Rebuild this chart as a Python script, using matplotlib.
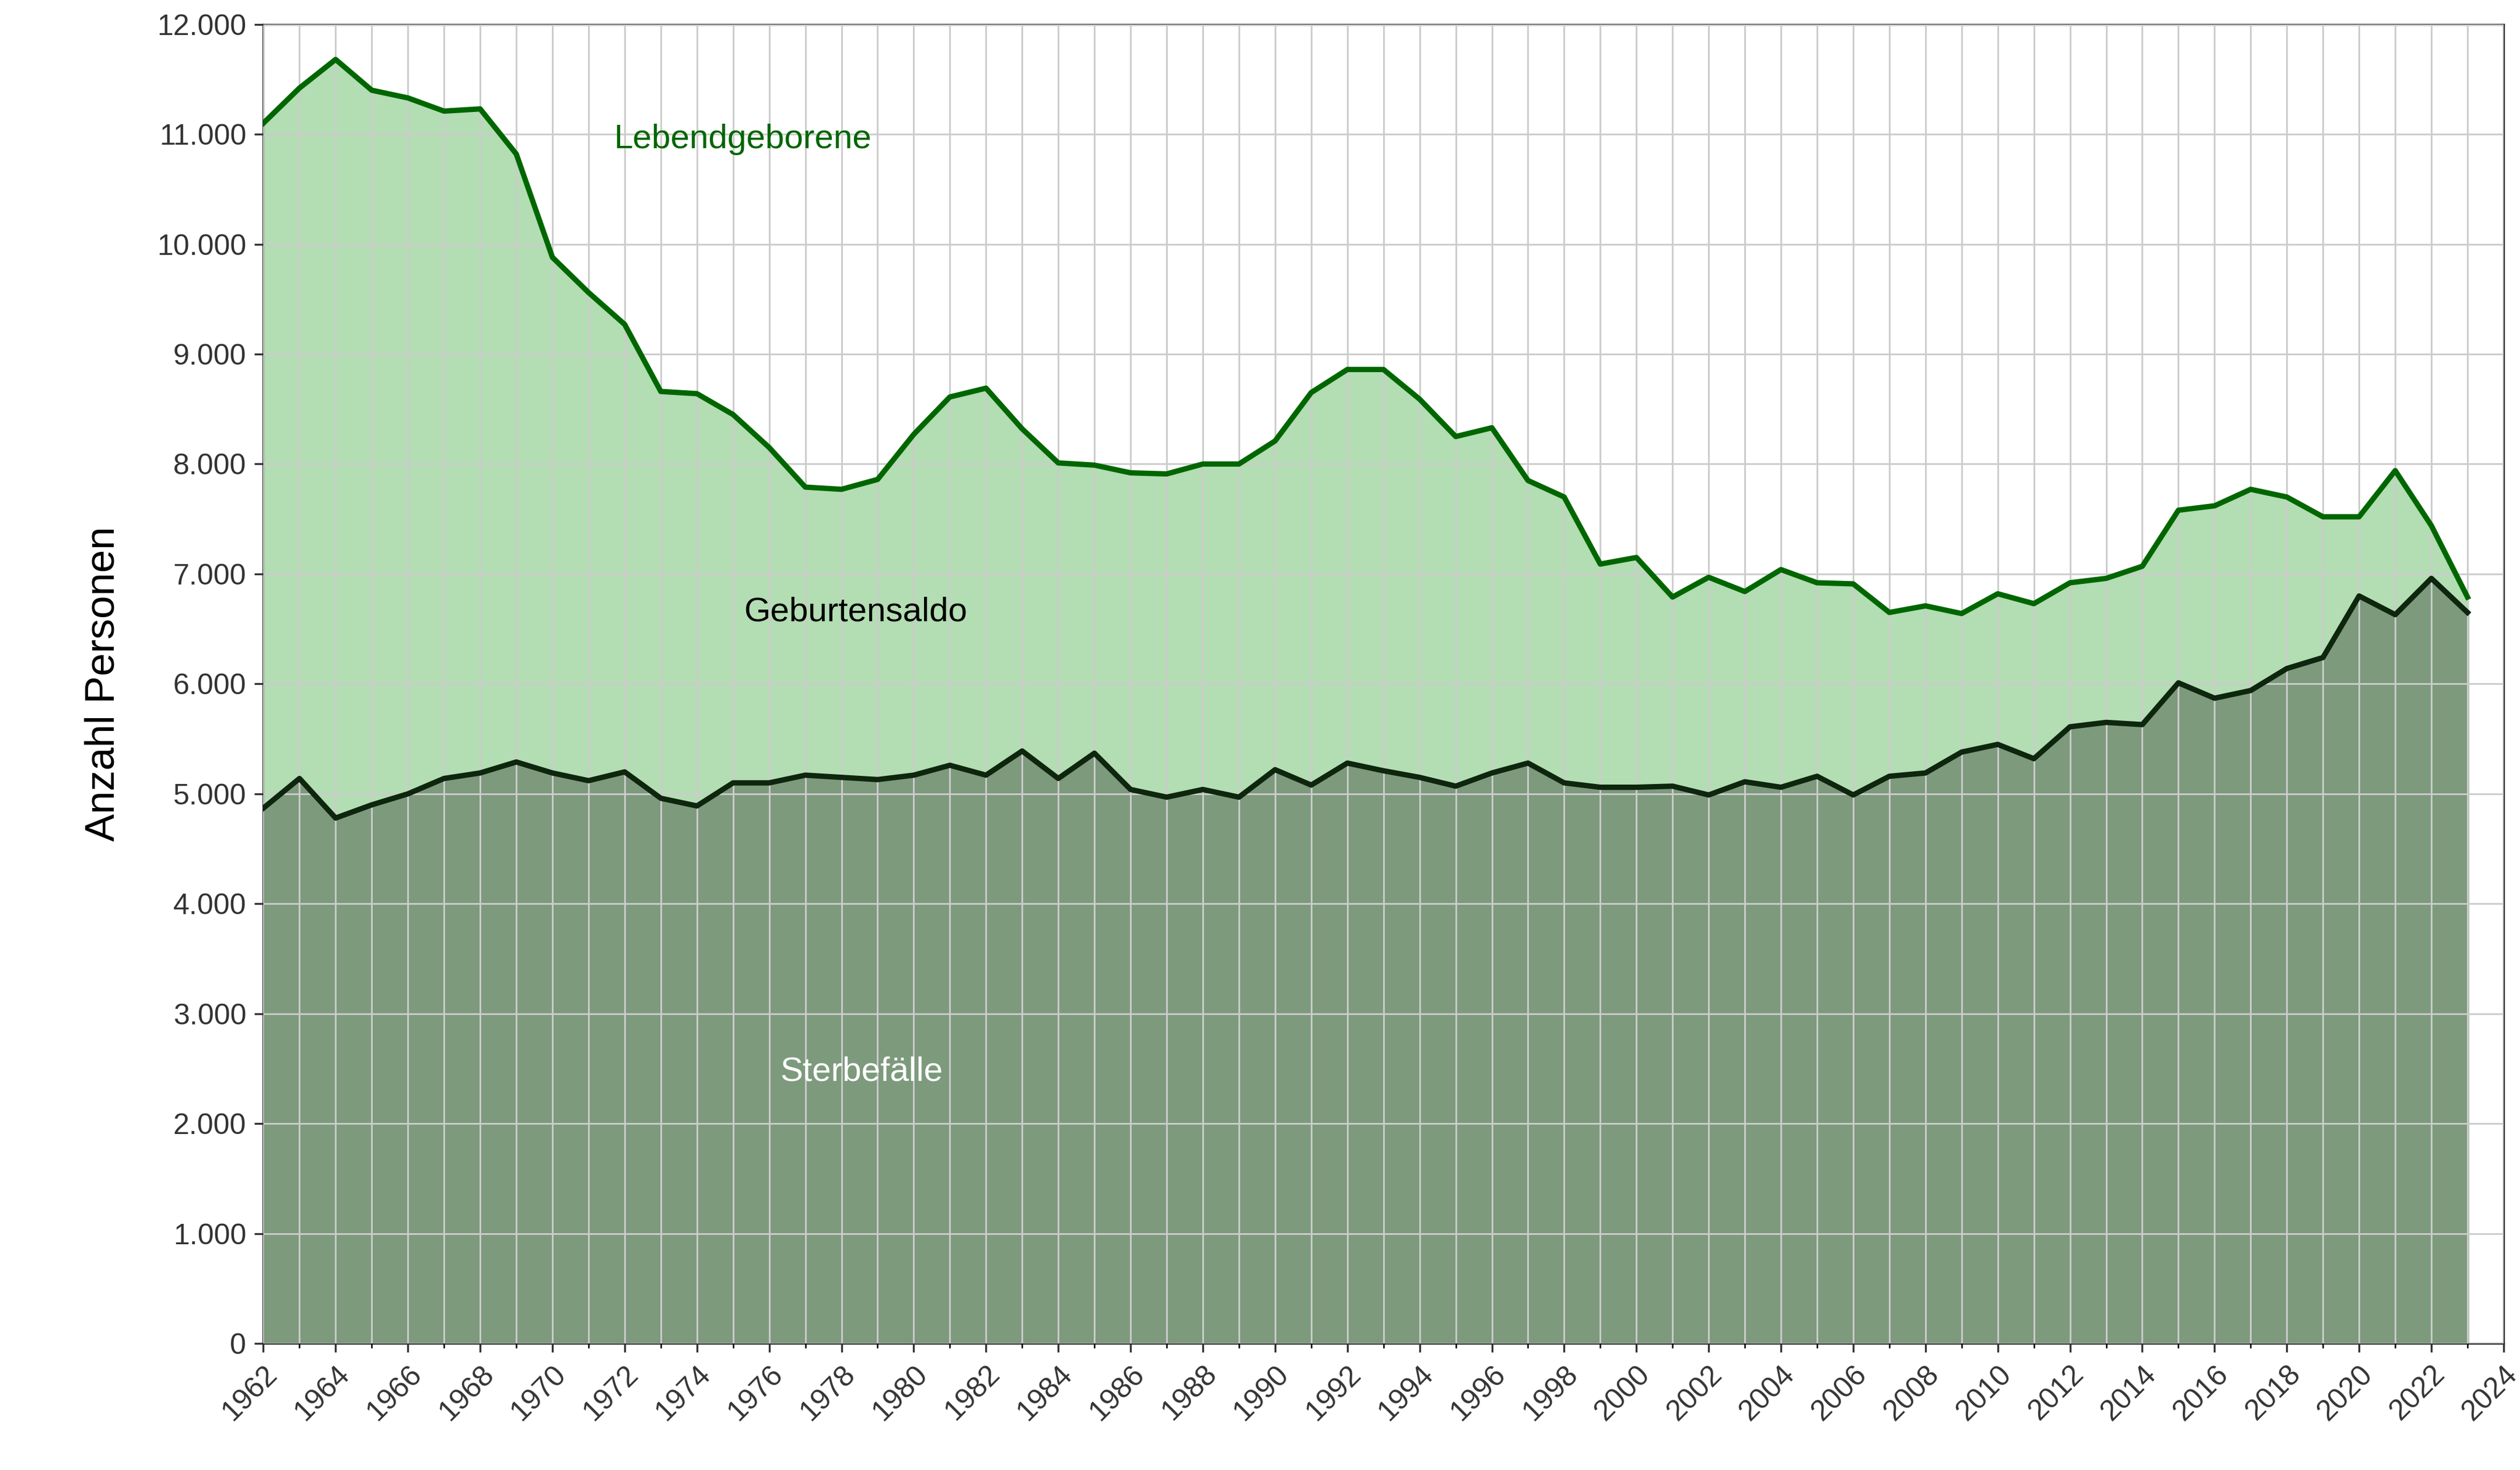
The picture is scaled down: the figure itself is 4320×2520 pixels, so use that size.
import matplotlib
matplotlib.use("Agg")
import matplotlib.pyplot as plt
from matplotlib.ticker import FuncFormatter, MultipleLocator

years = list(range(1962, 2024))
lebendgeborene = [11100,11420,11680,11400,11330,11210,11230,10820,9880,9560,9270,8660,8640,8450,8150,7790,7770,7860,8270,8610,8690,8320,8010,7990,7920,7910,8000,8000,8210,8650,8860,8860,8590,8250,8330,7850,7700,7090,7150,6790,6970,6840,7040,6920,6910,6650,6710,6640,6820,6730,6920,6960,7070,7580,7620,7770,7700,7520,7520,7940,7440,6790]
sterbefaelle = [4870,5140,4780,4900,5000,5140,5190,5290,5190,5120,5200,4960,4890,5100,5100,5170,5150,5130,5170,5260,5170,5390,5140,5370,5040,4970,5040,4970,5220,5080,5280,5210,5150,5070,5190,5280,5100,5060,5060,5070,4990,5110,5060,5160,4990,5160,5190,5380,5450,5320,5610,5650,5630,6010,5870,5940,6140,6240,6800,6630,6960,6650]

plt.rcParams["font.family"] = "Liberation Sans"
fig = plt.figure(figsize=(14.4, 8.4), dpi=300)
ax = fig.add_axes([0.1045, 0.086, 0.889, 0.8975])

ax.fill_between(years, 0, lebendgeborene, color="#b3ddb3", zorder=1)
ax.fill_between(years, 0, sterbefaelle, color="#7d9a7d", zorder=2)
ax.plot(years, lebendgeborene, color="#006600", lw=2.2, zorder=4)
ax.plot(years, sterbefaelle, color="#0d260d", lw=2.2, zorder=4)

ax.set_xlim(1962, 2024)
ax.set_ylim(0, 12000)
ax.xaxis.set_major_locator(MultipleLocator(2))
ax.xaxis.set_minor_locator(MultipleLocator(1))
ax.yaxis.set_major_locator(MultipleLocator(1000))
ax.yaxis.set_major_formatter(FuncFormatter(lambda v, p: f"{int(v):,}".replace(",", ".")))
ax.grid(True, which="both", color="#cccccc", lw=0.7, zorder=3)
ax.set_axisbelow(False)
for lab in ax.get_xticklabels():
    lab.set_rotation(45); lab.set_ha("right"); lab.set_rotation_mode("anchor")
ax.tick_params(labelsize=12, colors="#333333")
ax.set_ylabel("Anzahl Personen", fontsize=17, labelpad=14)
for s in ax.spines.values():
    s.set_color("#333333")

ax.text(1971.7, 10950, "Lebendgeborene", color="#006600", fontsize=14, va="center", zorder=5)
ax.text(1975.3, 6650, "Geburtensaldo", color="black", fontsize=14, va="center", zorder=5)
ax.text(1976.3, 2470, "Sterbefälle", color="white", fontsize=14, va="center", zorder=5)

fig.savefig("out.png", dpi=300)
